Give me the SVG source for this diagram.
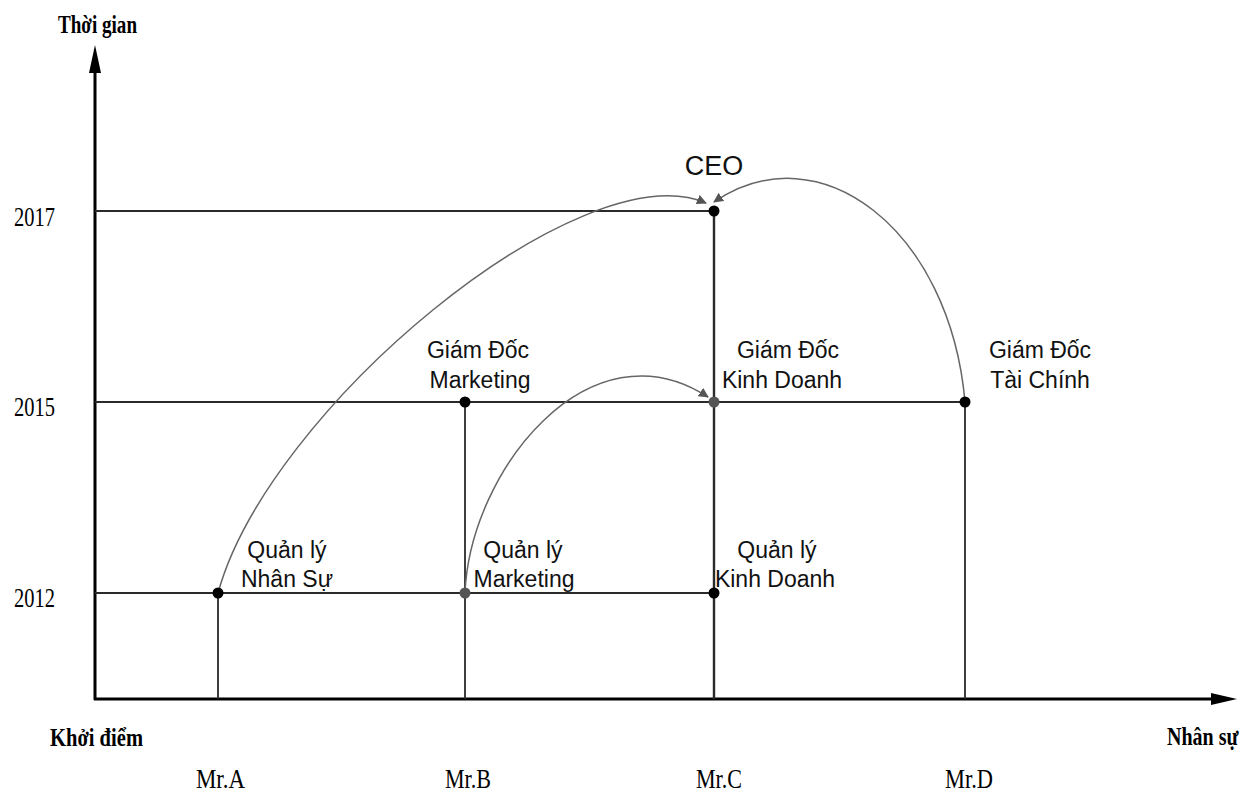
<svg xmlns="http://www.w3.org/2000/svg" width="1243" height="794" viewBox="0 0 1243 794">
<style>
.axis{stroke:#000;stroke-width:3;fill:none}
.grid{stroke:#2a2a2a;stroke-width:1.8;fill:none}
.curve{stroke:#666;stroke-width:1.5;fill:none;marker-end:url(#ah)}
.dot{fill:#000}
.dotg{fill:#555}
.lbl{font-family:"Liberation Sans",Arial,sans-serif;font-size:23px;fill:#111;text-anchor:middle}
.ser{font-family:"Liberation Serif","Times New Roman",serif;font-size:27px;fill:#000}
.serb{font-family:"Liberation Serif","Times New Roman",serif;font-size:25px;font-weight:bold;fill:#000}
</style>
<defs>
<marker id="ah" viewBox="0 0 10 10" refX="9" refY="5" markerWidth="10" markerHeight="10" markerUnits="userSpaceOnUse" orient="auto">
<path d="M0,0 L10,5 L0,10 Z" fill="#555"/>
</marker>
</defs>
<rect width="1243" height="794" fill="#fff"/>
<g id="axes">
<line class="axis" x1="95" y1="70" x2="95" y2="700"/>
<polygon points="95,45 101,73 89,73" fill="#000"/>
<line class="axis" x1="94" y1="699" x2="1215" y2="699"/>
<polygon points="1237,699 1211,693 1211,705" fill="#000"/>
<text class="serb" x="58" y="33" textLength="79" lengthAdjust="spacingAndGlyphs">Thời gian</text>
<text class="serb" x="50" y="746" textLength="93" lengthAdjust="spacingAndGlyphs">Khởi điểm</text>
<text class="serb" transform="translate(1167,745) scale(0.8,1)">Nhân sự</text>
<text class="ser" x="14" y="226" textLength="41" lengthAdjust="spacingAndGlyphs">2017</text>
<text class="ser" x="14" y="416" textLength="41" lengthAdjust="spacingAndGlyphs">2015</text>
<text class="ser" x="14" y="607" textLength="41" lengthAdjust="spacingAndGlyphs">2012</text>
<text class="ser" x="196" y="788" textLength="49" lengthAdjust="spacingAndGlyphs">Mr.A</text>
<text class="ser" x="445" y="788" textLength="46" lengthAdjust="spacingAndGlyphs">Mr.B</text>
<text class="ser" x="696" y="788" textLength="46" lengthAdjust="spacingAndGlyphs">Mr.C</text>
<text class="ser" x="945" y="788" textLength="48" lengthAdjust="spacingAndGlyphs">Mr.D</text>
</g>
<g id="grid">
<line class="grid" x1="95" y1="211" x2="714" y2="211"/>
<line class="grid" x1="95" y1="402" x2="965" y2="402"/>
<line class="grid" x1="95" y1="593" x2="714" y2="593"/>
<line class="grid" x1="218" y1="593" x2="218" y2="699"/>
<line class="grid" x1="465" y1="402" x2="465" y2="699"/>
<line class="grid" x1="714" y1="211" x2="714" y2="699" style="stroke-width:2.4"/>
<line class="grid" x1="965" y1="402" x2="965" y2="699"/>
</g>
<g id="connectors">
<path class="curve" d="M218,593 C268,410 580,150 706,203"/>
<path class="curve" d="M965,402 C950,230 820,130 714,202"/>
<path class="curve" d="M465,593 C470,470 590,320 708,397"/>
</g>
<g id="node-ceo">
<circle class="dot" cx="714" cy="211" r="5.5"/>
<text class="lbl" x="714" y="175" style="font-size:27px">CEO</text>
</g>
<g id="node-gd-marketing">
<circle class="dot" cx="465" cy="402" r="5.5"/>
<text class="lbl" x="478" y="358">Giám Đốc</text>
<text class="lbl" x="480" y="388">Marketing</text>
</g>
<g id="node-gd-kinhdoanh">
<circle class="dotg" cx="714" cy="402" r="5.5"/>
<text class="lbl" x="788" y="358">Giám Đốc</text>
<text class="lbl" x="782" y="388">Kinh Doanh</text>
</g>
<g id="node-gd-taichinh">
<circle class="dot" cx="965" cy="402" r="5.5"/>
<text class="lbl" x="1040" y="358">Giám Đốc</text>
<text class="lbl" x="1040" y="388">Tài Chính</text>
</g>
<g id="node-ql-nhansu">
<circle class="dot" cx="218" cy="593" r="5.5"/>
<text class="lbl" x="287" y="558">Quản lý</text>
<text class="lbl" x="287" y="587">Nhân Sự</text>
</g>
<g id="node-ql-marketing">
<circle class="dotg" cx="465" cy="593" r="5.5"/>
<text class="lbl" x="523" y="558">Quản lý</text>
<text class="lbl" x="524" y="587">Marketing</text>
</g>
<g id="node-ql-kinhdoanh">
<circle class="dot" cx="714" cy="593" r="5.5"/>
<text class="lbl" x="777" y="558">Quản lý</text>
<text class="lbl" x="775" y="587">Kinh Doanh</text>
</g>
</svg>
